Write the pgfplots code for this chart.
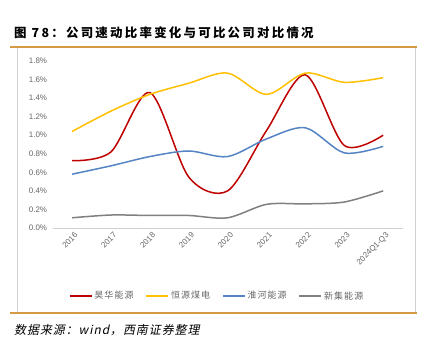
\documentclass[border=0pt]{standalone}
\usepackage{fontspec}
\setmainfont{Liberation Sans}
\newfontfamily\cjk{Noto Sans CJK SC}
\newfontfamily\cjkt[LetterSpace=18]{Noto Sans CJK SC}
\newfontfamily\cjkl[LetterSpace=12]{Noto Sans CJK SC}
\newfontfamily\cjkit[FakeSlant=0.2,LetterSpace=8]{Noto Sans CJK SC}
\usepackage{pgfplots}
\pgfplotsset{compat=1.18}
\definecolor{cred}{HTML}{C00000}
\definecolor{cyel}{HTML}{FFC000}
\definecolor{cblue}{HTML}{5584C4}
\definecolor{cgray}{HTML}{808080}
\definecolor{crule}{HTML}{D49A45}
\definecolor{cframe}{HTML}{D0D0D0}
\definecolor{txt}{HTML}{666666}
\begin{document}
\begin{tikzpicture}
\path[use as bounding box] (0bp,0bp) rectangle (433bp,350bp);
\fill[white] (0bp,0bp) rectangle (433bp,350bp);
\draw[cframe, line width=1bp] (17bp,37bp) rectangle (415bp,303bp);
\draw[crule, line width=1.6bp] (10bp,303bp) -- (417bp,303bp);
\draw[crule, line width=1.6bp] (10bp,37bp) -- (417bp,37bp);
\node[anchor=west, inner sep=0] at (14bp,317bp) {\fontsize{12.5}{14}\selectfont\cjkt\bfseries 图 78：公司速动比率变化与可比公司对比情况};
\node[anchor=west, inner sep=0] at (14bp,20bp) {\fontsize{12}{14}\selectfont\cjkit 数据来源：wind，西南证券整理};
\begin{axis}[
  at={(52.6bp,122bp)}, anchor=south west, scale only axis,
  width=350bp, height=167bp,
  xmin=-0.5, xmax=8.5, ymin=0, ymax=1.8,
  axis x line*=bottom, axis y line*=left,
  y axis line style={draw=none},
  x axis line style={cframe, line width=0.8bp},
  xtick={0,...,8},
  xticklabels={2016,2017,2018,2019,2020,2021,2022,2023,2024Q1-Q3},
  xticklabel style={rotate=45, anchor=north east, font=\fontsize{8}{9}\selectfont, text=txt, inner sep=1bp, yshift=-3bp},
  ytick={0,0.2,...,1.8},
  yticklabel={\pgfmathprintnumber[fixed,fixed zerofill,precision=1]{\tick}\%},
  yticklabel style={font=\fontsize{8}{9}\selectfont, text=txt, xshift=-2bp},
  /pgf/number format/assume math mode=true,
  tick style={draw=none},
  legend columns=4,
  legend style={at={(0.47,-0.407)}, anchor=center, draw=none, fill=none,
    font=\fontsize{9}{10}\selectfont\cjkl, text=txt,
    /tikz/every even column/.append style={column sep=10bp}},
  legend image code/.code={\draw[#1, line width=1.5bp] (0bp,0bp) -- (22bp,0bp);},
  clip=false,
]
\addplot[cred, line width=1.5bp, smooth, tension=0.5] coordinates {(0,0.725)(1,0.82)(2,1.46)(3,0.55)(4,0.40)(5,1.05)(6,1.65)(7,0.89)(8,1.00)};
\addlegendentry{昊华能源}
\addplot[cyel, line width=1.5bp, smooth, tension=0.5] coordinates {(0,1.04)(1,1.26)(2,1.44)(3,1.56)(4,1.67)(5,1.44)(6,1.67)(7,1.57)(8,1.62)};
\addlegendentry{恒源煤电}
\addplot[cblue, line width=1.5bp, smooth, tension=0.5] coordinates {(0,0.58)(1,0.67)(2,0.77)(3,0.83)(4,0.77)(5,0.96)(6,1.08)(7,0.81)(8,0.88)};
\addlegendentry{淮河能源}
\addplot[cgray, line width=1.5bp, smooth, tension=0.5] coordinates {(0,0.11)(1,0.14)(2,0.135)(3,0.135)(4,0.11)(5,0.255)(6,0.26)(7,0.28)(8,0.40)};
\addlegendentry{新集能源}
\end{axis}
\end{tikzpicture}
\end{document}
